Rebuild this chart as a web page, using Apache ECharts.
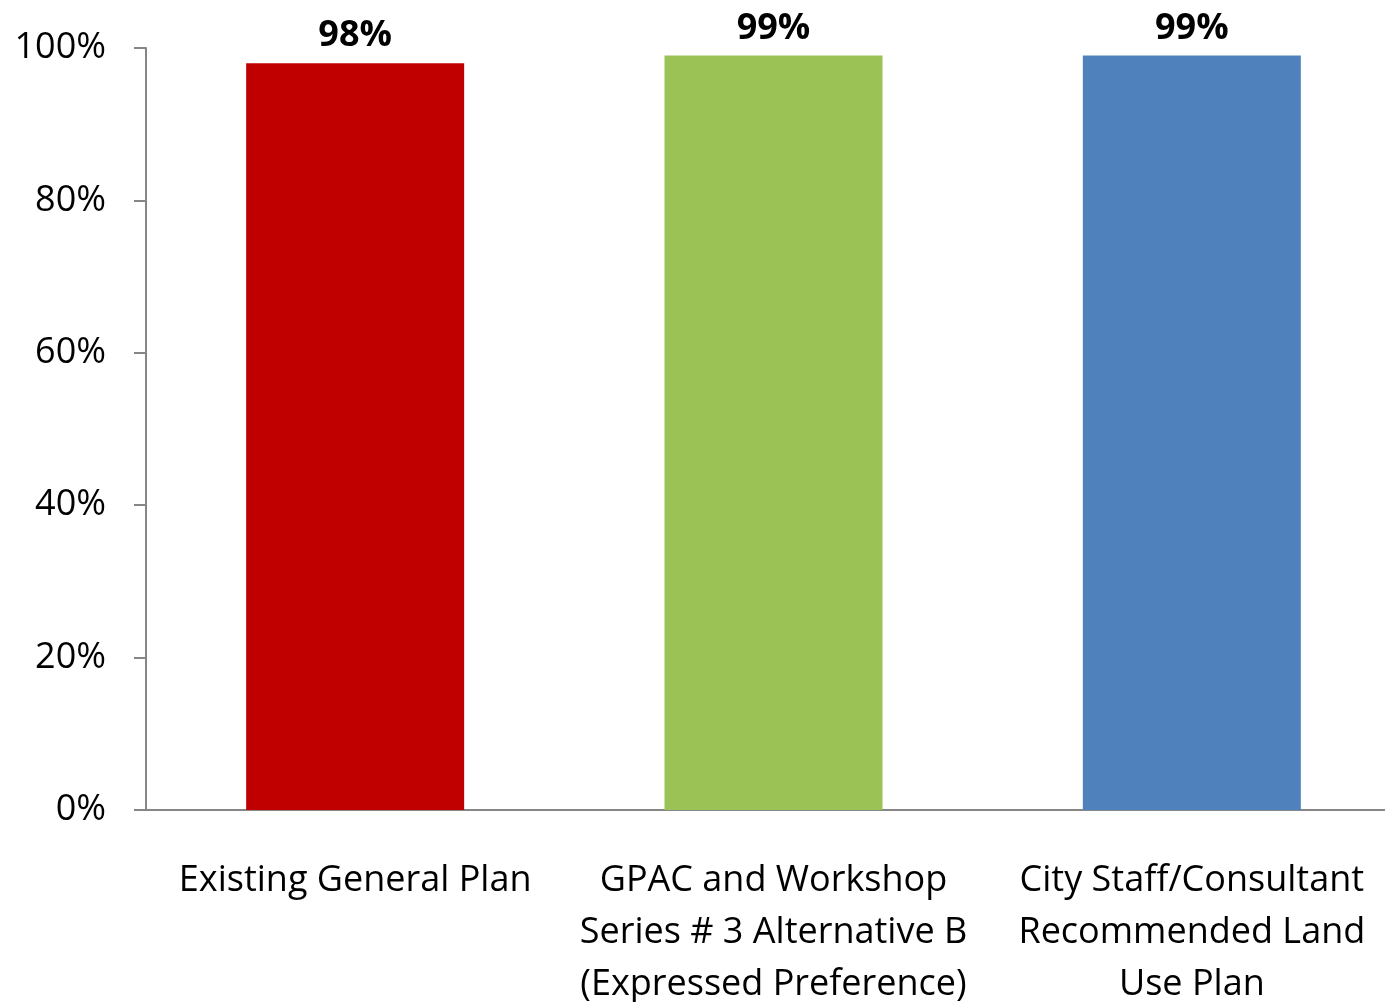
<!DOCTYPE html>
<html>
<head>
<meta charset="utf-8">
<title>Land use plan comparison</title>
<script src="https://cdn.jsdelivr.net/npm/echarts@6/dist/echarts.min.js"></script>
<style>
    html, body { margin: 0; padding: 0; background: #fff; }
    #chart { width: 1385px; height: 1002px; }
</style>
</head>
<body>
<div id="chart"></div>
<script>
var categories = [
    'Existing General Plan',
    'GPAC and Workshop\nSeries # 3 Alternative B\n(Expressed Preference)',
    'City Staff/Consultant\nRecommended Land\nUse Plan'
];
var values = [98, 99, 99];
var barColors = ['#c00000', '#9bc255', '#4f81bd'];
var yTicks = [0, 20, 40, 60, 80, 100];

var font = 'Open Sans, Noto Sans, sans-serif';
var axisColor = '#868686';

var chart = echarts.init(document.getElementById('chart'));
var option = {
    animation: false,
    grid: {
        left: 146,
        right: -16,
        top: 48,
        bottom: 192,
        outerBoundsMode: 'none'
    },
    xAxis: {
        type: 'category',
        data: categories,
        axisLine: { lineStyle: { color: axisColor, width: 2 } },
        axisTick: { show: false },
        axisLabel: {
            color: '#000',
            fontFamily: font,
            fontSize: 36,
            lineHeight: 52,
            margin: 45,
            interval: 0
        }
    },
    yAxis: {
        type: 'value',
        min: yTicks[0],
        max: yTicks[yTicks.length - 1],
        interval: 20,
        splitLine: { show: false },
        axisLine: { show: true, lineStyle: { color: axisColor, width: 2 } },
        axisTick: { show: true, inside: false, length: 12, lineStyle: { color: axisColor, width: 2 } },
        axisLabel: {
            color: '#000',
            fontFamily: font,
            fontSize: 36,
            margin: 40,
            formatter: '{value}%'
        }
    },
    series: [
        {
            type: 'bar',
            barWidth: 218,
            data: values.map(function (v, i) {
                return { value: v, itemStyle: { color: barColors[i] } };
            }),
            label: {
                show: true,
                position: 'top',
                distance: 9,
                color: '#000',
                fontFamily: font,
                fontWeight: 'bold',
                fontSize: 36,
                formatter: '{c}%'
            }
        }
    ]
};
chart.setOption(option);
</script>
</body>
</html>
